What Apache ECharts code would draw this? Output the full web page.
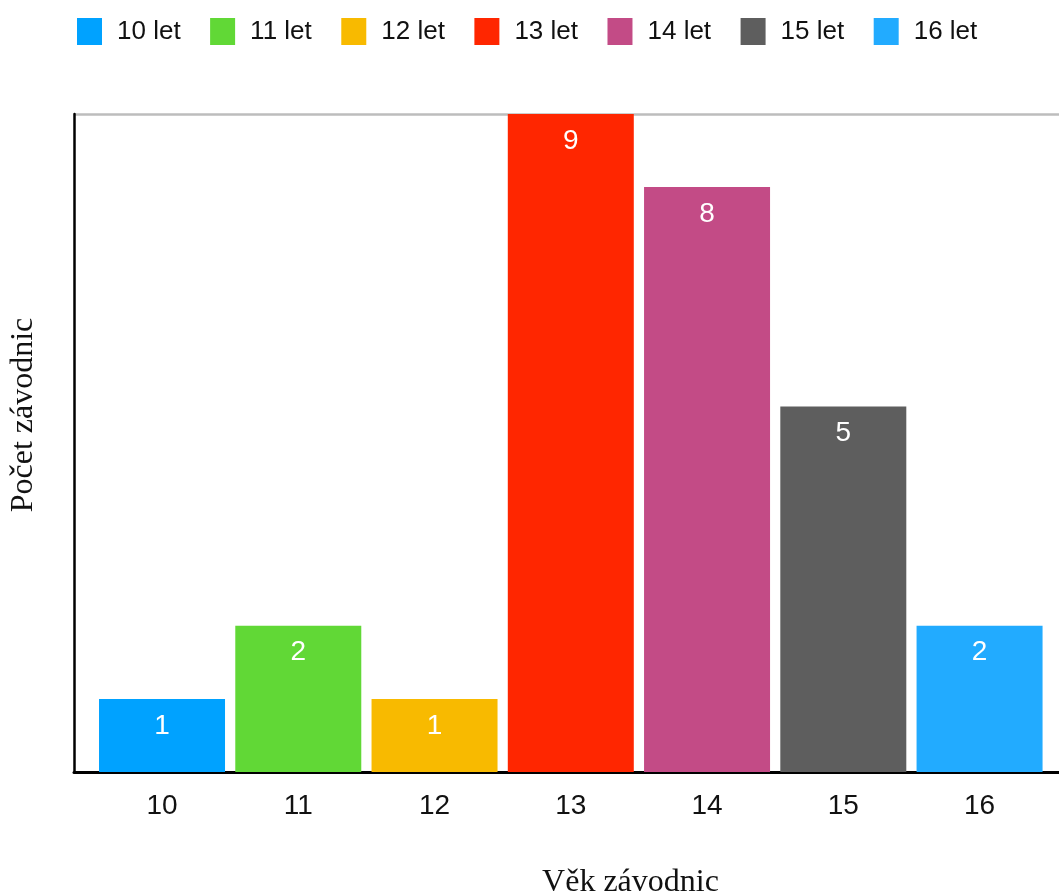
<!DOCTYPE html>
<html>
<head>
<meta charset="utf-8">
<script src="https://cdn.jsdelivr.net/npm/echarts@6/dist/echarts.min.js"></script>
<style>
html,body{margin:0;padding:0;background:#fff;overflow:hidden;}
#chart{width:1059px;height:894px;}
</style>
</head>
<body>
<div id="chart"></div>
<script>
const ages = [10, 11, 12, 13, 14, 15, 16];
const counts = [1, 2, 1, 9, 8, 5, 2];
const seriesNames = ['10 let', '11 let', '12 let', '13 let', '14 let', '15 let', '16 let'];
const tickLabels = ['10', '11', '12', '13', '14', '15', '16'];
const xTitle = 'Věk závodnic';
const yTitle = 'Počet závodnic';

const palette = ['#00A2FF', '#61D836', '#F8BA00', '#FF2600', '#C34B86', '#5E5E5E', '#22ABFF'];
const sans = '"Liberation Sans", Arial, Helvetica, sans-serif';
const serif = '"Liberation Serif", "Times New Roman", serif';

const chart = echarts.init(document.getElementById('chart'), null, {renderer: 'canvas'});

const series = seriesNames.map((name, i) => ({
  name: name,
  type: 'bar',
  stack: 'age',
  barWidth: 126,
  data: [[ages[i], counts[i]]],
  itemStyle: {color: palette[i]},
  label: {
    show: true,
    position: 'insideTop',
    distance: 13,
    color: '#fff',
    fontSize: 28,
    fontFamily: sans,
    formatter: p => String(p.value[1])
  }
}));

chart.setOption({
  animation: false,
  backgroundColor: '#fff',
  color: palette,
  legend: {
    left: 72,
    top: 13,
    itemWidth: 25,
    itemHeight: 27,
    itemGap: 29.5,
    icon: 'rect',
    textStyle: {fontSize: 26, fontFamily: sans, color: '#111', padding: [0, 0, 0, 10]},
    data: seriesNames
  },
  grid: {left: 74, width: 985, top: 114, height: 658, containLabel: false, outerBoundsMode: 'none'},
  xAxis: {
    type: 'value',
    min: 9.354,
    max: 16.583,
    name: xTitle,
    nameLocation: 'middle',
    nameGap: 95,
    nameTextStyle: {fontFamily: serif, fontSize: 32, color: '#111', padding: [0, 0, 0, 128]},
    axisLine: {show: true, onZero: false, lineStyle: {color: '#000', width: 3}},
    axisTick: {show: false},
    splitLine: {show: false},
    axisLabel: {
      customValues: ages,
      margin: 20,
      fontSize: 28,
      fontFamily: sans,
      color: '#111',
      formatter: v => tickLabels[ages.indexOf(Math.round(v))] || ''
    }
  },
  yAxis: {
    type: 'value',
    min: 0,
    max: 9,
    interval: 9,
    name: yTitle,
    nameLocation: 'middle',
    nameGap: 34,
    nameTextStyle: {fontFamily: serif, fontSize: 32, color: '#111', padding: [0, 0, 0, 56]},
    axisLine: {show: true, lineStyle: {color: '#000', width: 2.5}},
    axisTick: {show: false},
    axisLabel: {show: false},
    splitLine: {show: true, lineStyle: {color: '#bdbdbd', width: 2.5}}
  },
  series: series
});
</script>
</body>
</html>
